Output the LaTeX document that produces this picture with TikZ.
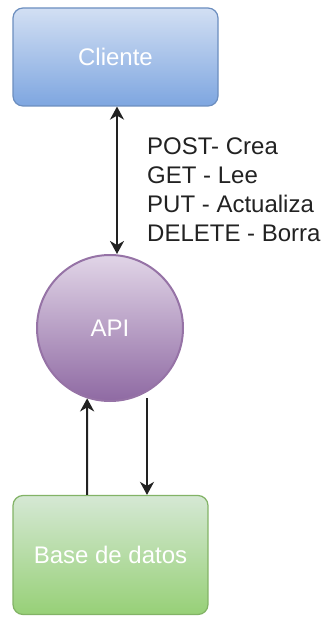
\documentclass[tikz,border=0pt]{standalone}
\usepackage{fontspec}
\setmainfont{Liberation Sans}
\usetikzlibrary{arrows.meta,calc}
\definecolor{bluetop}{HTML}{D2DFF3}
\definecolor{bluebot}{HTML}{7EA6E0}
\definecolor{blueline}{HTML}{6C8EBF}
\definecolor{purtop}{HTML}{E1D5E7}
\definecolor{purbot}{HTML}{8F6AA3}
\definecolor{purline}{HTML}{9673A6}
\definecolor{grntop}{HTML}{D5E8D4}
\definecolor{grnbot}{HTML}{97D077}
\definecolor{grnline}{HTML}{82B366}
\definecolor{connc}{HTML}{222222}
\tikzset{
  lbl/.style={text=white,font=\fontsize{24}{29}\selectfont},
  bluebox/.style={lbl,draw=blueline,line width=1.2pt,rounded corners=10pt,top color=bluetop,bottom color=bluebot,minimum width=205pt,minimum height=98pt,inner sep=0pt},
  greenbox/.style={lbl,draw=grnline,line width=1.2pt,rounded corners=10pt,top color=grntop,bottom color=grnbot,minimum width=195pt,minimum height=119pt,inner sep=0pt},
  apicircle/.style={lbl,circle,draw=purline,line width=2pt,top color=purtop,bottom color=purbot,minimum size=146pt,inner sep=0pt},
  conn/.style={line width=2pt,connc},
  mytip/.tip={Stealth[length=13pt,width=14pt,inset=4pt]}
}
\begin{document}
\begin{tikzpicture}[x=1pt,y=-1pt]
\useasboundingbox (0,0) rectangle (323,617);
\node[bluebox] (cliente) at (115.5,57) {Cliente};
\node[apicircle] (api) at (110,328) {API};
\node[greenbox] (bd) at (110.5,555) {Base de datos};
\node[anchor=north west,inner sep=0pt,align=left,text=connc,font=\fontsize{24}{29}\selectfont] (metodos) at (147,138) {POST- Crea\\GET - Lee\\PUT - Actualiza\\DELETE - Borra};
\coordinate (ax) at (117,0);
\coordinate (ux) at (87,0);
\coordinate (dx) at (147,0);
\draw[conn,mytip-mytip] (ax |- cliente.south) -- (ax |- api.north);
\draw[conn,-mytip] (ux |- bd.north) -- (api.-108);
\draw[conn,-mytip] ($(api.center)+(37,70)$) -- (dx |- bd.north);
\end{tikzpicture}
\end{document}
